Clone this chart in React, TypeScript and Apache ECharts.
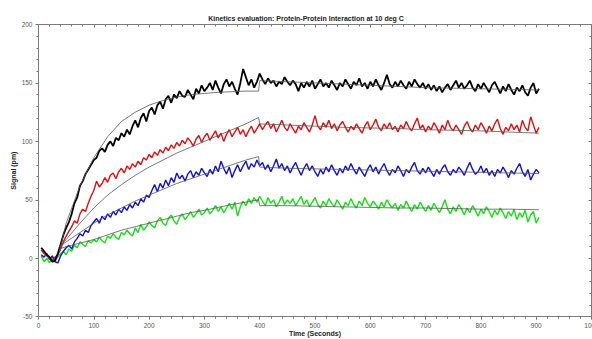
import React, { useEffect, useRef } from "react";
import * as echarts from "echarts";

// Sampling grid of the measured signals (seconds)
const T_START = 5;
const T_STEP = 5;

const blackSignal = [
  9, 6, 3, 1, -3, -2, 4, 12, 20, 26,
  31, 38, 47, 52, 62, 66, 72, 76, 80, 84,
  86, 92, 94, 91, 97, 100, 96, 103, 101, 107,
  104, 110, 106, 113, 118, 112, 120, 124, 117, 126,
  129, 123, 131, 134, 128, 136, 139, 133, 140, 137,
  143, 139, 138, 144, 140, 136, 145, 141, 148, 143,
  146, 150, 144, 152, 146, 141, 149, 153, 147, 151,
  145, 140, 150, 162, 155, 148, 153, 146, 151, 158,
  153, 149, 154, 150, 152, 147, 151, 149, 155, 151,
  148, 152, 149, 143, 150, 146, 151, 147, 152, 145,
  149, 153, 147, 150, 146, 152, 148, 144, 150, 147,
  153, 149, 145, 151, 148, 154, 147, 150, 145, 151,
  147, 153, 148, 144, 150, 157, 149, 146, 151, 147,
  152, 148, 145, 151, 147, 153, 149, 146, 150, 145,
  149, 144, 148, 143, 147, 142, 146, 149, 144, 148,
  152, 146, 150, 145, 148, 152, 146, 143, 149, 145,
  150, 146, 142, 148, 151, 146, 141, 147, 143, 149,
  144, 140, 146, 143, 148, 142, 139, 146, 150, 141,
  145,
];

const redSignal = [
  7, 4, 2, 0, -2, 1, 3, 8, 14, 19,
  23, 27, 32, 30, 38, 42, 40, 47, 53, 58,
  66, 61, 64, 69, 65, 71, 73, 68, 74, 77,
  73, 79, 76, 81, 78, 83, 80, 86, 84, 89,
  86, 91, 88, 93, 90, 95, 92, 97, 94, 99,
  96, 101, 98, 103, 100, 96, 102, 105, 99, 104,
  107, 101, 105, 109, 103, 107, 100, 106, 110, 104,
  108, 112, 106, 110, 104, 109, 113, 107, 111, 115,
  110, 114, 117, 111, 115, 108, 113, 118, 112, 109,
  115, 111, 107, 113, 110, 116, 112, 108, 114, 122,
  113, 110, 116, 112, 118, 111, 115, 109, 114, 117,
  112, 108, 113, 110, 115, 111, 107, 113, 117, 110,
  114, 119, 112, 109, 115, 111, 116, 110, 113, 108,
  114, 111, 117, 112, 109, 115, 120, 111, 114, 108,
  113, 110, 116, 112, 107, 114, 110, 118, 112, 109,
  114, 110, 106, 113, 117, 111, 108, 114, 110, 116,
  112, 107, 113, 109, 115, 119, 111, 106, 112, 109,
  115, 110, 114, 108, 118, 112, 109, 121, 114, 107,
  112,
];

const blueSignal = [
  3, 1, 4, -1, 2, -3, -4, 2, 6, 9,
  11, 8, 14, 17, 21, 19, 24, 22, 28, 31,
  34, 30, 36, 33, 38, 35, 40, 37, 42, 39,
  44, 41, 46, 43, 48, 45, 51, 48, 54, 52,
  58, 63, 57, 64, 60, 67, 62, 69, 65, 73,
  68, 71, 66, 72, 75, 69, 74, 71, 77, 73,
  70, 76, 72, 79, 74, 83, 77, 72, 78, 69,
  75, 80, 74, 79, 83, 76, 81, 78, 84, 79,
  82, 76, 80, 74, 79, 85, 77, 81, 75, 79,
  73, 78, 82, 76, 71, 77, 81, 75, 79, 74,
  70, 76, 72, 78, 74, 80, 75, 71, 77, 73,
  79, 75, 81, 76, 72, 78, 74, 70, 76, 80,
  74, 78, 72, 77, 81, 75, 71, 76, 73, 79,
  75, 70, 76, 73, 78, 82, 75, 72, 77, 73,
  78, 74, 70, 76, 72, 77, 80, 74, 71, 76,
  73, 78, 75, 71, 77, 82, 76, 72, 74, 79,
  73, 77, 71, 75, 70, 76, 73, 78, 74, 69,
  75, 72, 77, 81, 74, 70, 76, 67, 72, 76,
  73,
];

const greenSignal = [
  2, -3, 0, -4, 1, -2, 1, 4, 6, 3,
  8, 6, 11, 9, 14, 12, 10, 15, 13, 16,
  14, 18, 15, 13, 19, 17, 21, 18, 16, 22,
  20, 24, 21, 19, 26, 22, 29, 24, 27, 31,
  28, 26, 32, 35, 30, 28, 34, 37, 32, 29,
  35, 38, 33, 36, 40, 35, 38, 42, 37, 39,
  43, 38, 41, 45, 40, 44, 39, 43, 47, 42,
  48, 36, 44, 49, 45, 51, 47, 52, 48, 53,
  49, 45, 52, 47, 50, 44, 48, 53, 46, 50,
  47, 51, 45, 49, 53, 46, 50, 44, 48, 52,
  46, 43, 49, 45, 51, 47, 44, 50, 46, 42,
  48, 45, 51, 46, 43, 49, 45, 52, 47, 44,
  49, 46, 42, 48, 44, 50, 46, 43, 47, 41,
  46, 43, 49, 44, 40, 46, 42, 48, 44, 40,
  45, 41, 47, 43, 39, 44, 50, 42, 38, 44,
  40, 46, 42, 37, 43, 39, 45, 41, 36, 42,
  38, 44, 40, 35, 41, 37, 43, 39, 34, 40,
  36, 42, 33, 39, 35, 41, 31, 37, 40, 30,
  35,
];

// Fitted model curves (association up to 398 s, dissociation from 400 s)
const fitTimes = [38, 50, 75, 100, 125, 150, 175, 200, 225, 250, 275, 300, 325, 350, 375, 398, 400, 450, 500, 550, 600, 650, 700, 750, 800, 850, 905];
const blackFit = [6, 30, 62, 86, 104, 117, 125, 131, 135, 138, 140, 141, 142, 142.5, 143, 143, 152, 151, 150, 149, 148, 147, 146, 145.5, 145, 144.5, 144];
const redFit = [10, 16, 30, 43, 54, 63, 71, 78, 84, 90, 95, 100, 105, 110, 115, 120.5, 115, 114, 113, 112, 111.5, 111, 110, 109.5, 109, 108, 107];
const blueFit = [10, 14, 22, 30, 37, 43, 49, 54, 59, 64, 68, 72, 76, 80, 84, 87, 78, 77, 76.5, 76, 75.5, 75, 74.5, 74, 73.5, 73, 72.5];
const greenFit = [8, 10, 13, 16, 20, 24, 27, 30, 33, 36, 39, 41, 43.5, 46, 48, 50, 45, 45, 44.5, 44, 43.5, 43, 43, 42.5, 42, 42, 41.5];

const TITLE = "Kinetics evaluation: Protein-Protein Interaction at 10 deg C";
const X_NAME = "Time (Seconds)";
const Y_NAME = "Signal (pm)";

const FONT = "Liberation Sans, Arial, Helvetica, sans-serif";
const AXIS_COLOR = "#7a7a7a";

function signalPairs(vals: number[]) {
  return vals.map((v, i) => [T_START + i * T_STEP, v]);
}
function fitPairs(vals: number[]) {
  return vals.map((v, i) => [fitTimes[i], v]);
}

export default function App() {
  const ref = useRef<HTMLDivElement>(null);

  useEffect(() => {
    if (!ref.current) return;
    const chart = echarts.init(ref.current, null, { renderer: "svg" });

    const baseAxisLine = { show: true, onZero: false, lineStyle: { color: AXIS_COLOR, width: 1 } };

    const dataSeries = (name: string, vals: number[], color: string, width: number) => ({
      name,
      type: "line",
      data: signalPairs(vals),
      showSymbol: false,
      symbol: "none",
      lineStyle: { color, width },
      z: 2,
    });
    const fitSeries = (name: string, vals: number[]) => ({
      name,
      type: "line",
      data: fitPairs(vals),
      showSymbol: false,
      symbol: "none",
      lineStyle: { color: "#555555", width: 0.8 },
      z: 3,
    });

    chart.setOption({
      animation: false,
      backgroundColor: "#ffffff",
      title: {
        text: TITLE,
        left: 301,
        top: 10,
        textAlign: "center",
        textStyle: { fontSize: 7, fontWeight: "bold", color: "#222", fontFamily: FONT },
      },
      grid: {
        left: 38.5,
        right: 0.5,
        top: 24.5,
        bottom: 22.3,
        containLabel: false,
        outerBoundsMode: "none",
      },
      xAxis: [
        {
          type: "value",
          min: 0,
          max: 1000,
          interval: 100,
          position: "bottom",
          name: X_NAME,
          nameLocation: "middle",
          nameGap: 13,
          nameMoveOverlap: false,
          nameTextStyle: { fontSize: 7, fontWeight: "bold", color: "#222", fontFamily: FONT },
          axisLine: baseAxisLine,
          axisTick: { show: true, length: 3, lineStyle: { color: AXIS_COLOR } },
          minorTick: { show: true, splitNumber: 5, length: 2, lineStyle: { color: AXIS_COLOR } },
          axisLabel: {
            fontSize: 6.5,
            color: "#555",
            margin: 5,
            fontFamily: FONT,
            formatter: (v: number) => String(v),
            hideOverlap: false,
          },
          splitLine: { show: false },
        },
        {
          type: "value",
          min: 0,
          max: 1000,
          interval: 100,
          position: "top",
          axisLine: baseAxisLine,
          axisTick: { show: true, inside: true, length: 3, lineStyle: { color: AXIS_COLOR } },
          minorTick: { show: true, splitNumber: 5, length: 2, lineStyle: { color: AXIS_COLOR } },
          axisLabel: { show: false },
          splitLine: { show: false },
        },
      ],
      yAxis: [
        {
          type: "value",
          min: -50,
          max: 200,
          interval: 50,
          position: "left",
          name: Y_NAME,
          nameLocation: "middle",
          nameGap: 22,
          nameMoveOverlap: false,
          nameTextStyle: { fontSize: 7, fontWeight: "bold", color: "#222", fontFamily: FONT },
          axisLine: baseAxisLine,
          axisTick: { show: true, length: 3, lineStyle: { color: AXIS_COLOR } },
          minorTick: { show: true, splitNumber: 5, length: 2, lineStyle: { color: AXIS_COLOR } },
          axisLabel: { fontSize: 6.5, color: "#555", margin: 6, fontFamily: FONT },
          splitLine: { show: false },
        },
        {
          type: "value",
          min: -50,
          max: 200,
          interval: 50,
          position: "right",
          axisLine: baseAxisLine,
          axisTick: { show: true, inside: true, length: 3, lineStyle: { color: AXIS_COLOR } },
          minorTick: { show: true, splitNumber: 5, length: 2, lineStyle: { color: AXIS_COLOR } },
          axisLabel: { show: false },
          splitLine: { show: false },
        },
      ],
      series: [
        dataSeries("Green", greenSignal, "#16e016", 1.4),
        dataSeries("Blue", blueSignal, "#1010d0", 1.4),
        dataSeries("Red", redSignal, "#e01010", 1.4),
        dataSeries("Black", blackSignal, "#000000", 1.8),
        fitSeries("Green fit", greenFit),
        fitSeries("Blue fit", blueFit),
        fitSeries("Red fit", redFit),
        fitSeries("Black fit", blackFit),
      ],
    });

    return () => chart.dispose();
  }, []);

  return (
    <div
      ref={ref}
      style={{ position: "fixed", left: 0, top: 0, width: 592, height: 339, background: "#fff" }}
    />
  );
}
